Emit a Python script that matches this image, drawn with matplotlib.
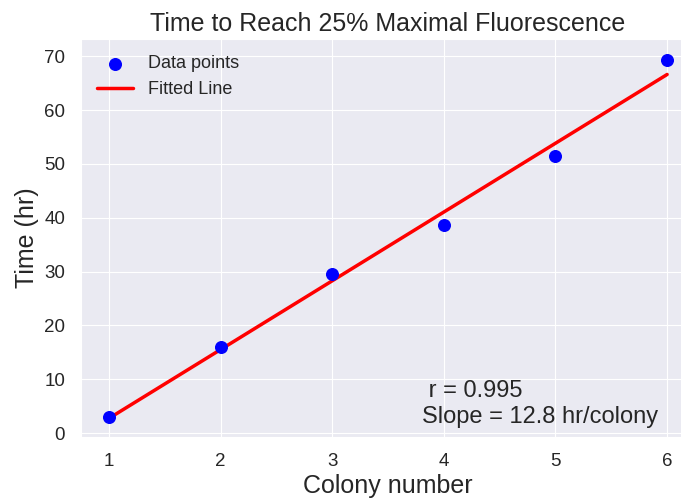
import numpy as np
import matplotlib
matplotlib.use('Agg')
import matplotlib.pyplot as plt
import seaborn as sns

# colony number vs time to reach 25% of max fluorescence
colony = [1, 2, 3, 4, 5, 6]
time_hr = [3.0, 16.0, 29.5, 38.7, 51.5, 69.3]
r_value = 0.995  # as printed on the chart

sns.set_style('darkgrid', {'axes.labelcolor': '.15', 'text.color': '.15',
                           'xtick.color': '.15', 'ytick.color': '.15'})
plt.rcParams['font.family'] = ['Liberation Sans', 'DejaVu Sans']

# least squares fit
slope, intercept = np.polyfit(colony, time_hr, 1)
fit = [slope * c + intercept for c in colony]

fig = plt.figure(figsize=(6.81, 5.0), dpi=100)
ax = fig.add_axes([0.119, 0.126, 0.9016, 0.796])

ax.scatter(colony, time_hr, s=70, color='b', label='Data points', zorder=3)
ax.plot(colony, fit, color='r', lw=2.5, label='Fitted Line', zorder=2)

ax.set_xlim(0.75, 6.25)
ax.set_ylim(-0.74, 73.2)
ax.set_title('Time to Reach 25% Maximal Fluorescence', fontsize=18)
ax.set_xlabel('Colony number', fontsize=18, labelpad=3)
ax.set_ylabel('Time (hr)', fontsize=18)
ax.tick_params(labelsize=13.5, pad=8)
ax.legend(loc='upper left', fontsize=13, scatterpoints=1, frameon=False)
ax.text(3.8, 1.0, ' r = %.3f\nSlope = %.1f hr/colony' % (r_value, slope),
        fontsize=17, va='bottom', ha='left')

fig.savefig('out.png', dpi=100)
